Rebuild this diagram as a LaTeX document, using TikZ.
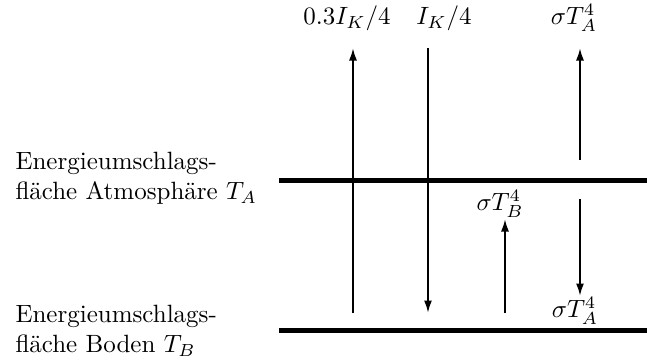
\documentclass[tikz,border=0pt]{standalone}
\usetikzlibrary{arrows.meta}
\begin{document}
\begin{tikzpicture}[x=0.40pt,y=-0.40pt,
  surf/.style={line width=2pt},
  flux/.style={thick,-{Latex[length=5pt,width=3.2pt]}},
  lbl/.style={inner sep=0pt},
  side/.style={align=left,anchor=west,inner sep=0pt}]
\useasboundingbox (0,0) rectangle (647,362);
% surfaces
\coordinate (a1) at (279,180);
\coordinate (a2) at (647,180);
\coordinate (b1) at (279,330);
\coordinate (b2) at (647,330);
\draw[surf] (a1) -- (a2);
\draw[surf] (b1) -- (b2);
% side labels
\node[side] (la) at (15,178) {Energieumschlags-\\fläche Atmosphäre $T_A$};
\node[side] (lb) at (15,331) {Energieumschlags-\\fläche Boden $T_B$};
% top labels
\node[lbl] (t1) at (347,18) {$0.3I_K/4$};
\node[lbl] (t2) at (444,18) {$I_K/4$};
\node[lbl] (t3) at (574,18) {$\sigma T_A^4$};
\node[lbl] (mB) at (500,204) {$\sigma T_B^4$};
\node[lbl] (mA) at (575,311) {$\sigma T_A^4$};
% arrow coordinates
\coordinate (p1s) at (353,313); \coordinate (p1e) at (353,48);
\coordinate (p2s) at (428,48);  \coordinate (p2e) at (428,313);
\coordinate (p3s) at (580,160); \coordinate (p3e) at (580,48);
\coordinate (p4s) at (580,199); \coordinate (p4e) at (580,296);
\coordinate (p5s) at (505,313); \coordinate (p5e) at (505,219);
\draw[flux] (p1s) -- (p1e);
\draw[flux] (p2s) -- (p2e);
\draw[flux] (p3s) -- (p3e);
\draw[flux] (p4s) -- (p4e);
\draw[flux] (p5s) -- (p5e);
\end{tikzpicture}
\end{document}
